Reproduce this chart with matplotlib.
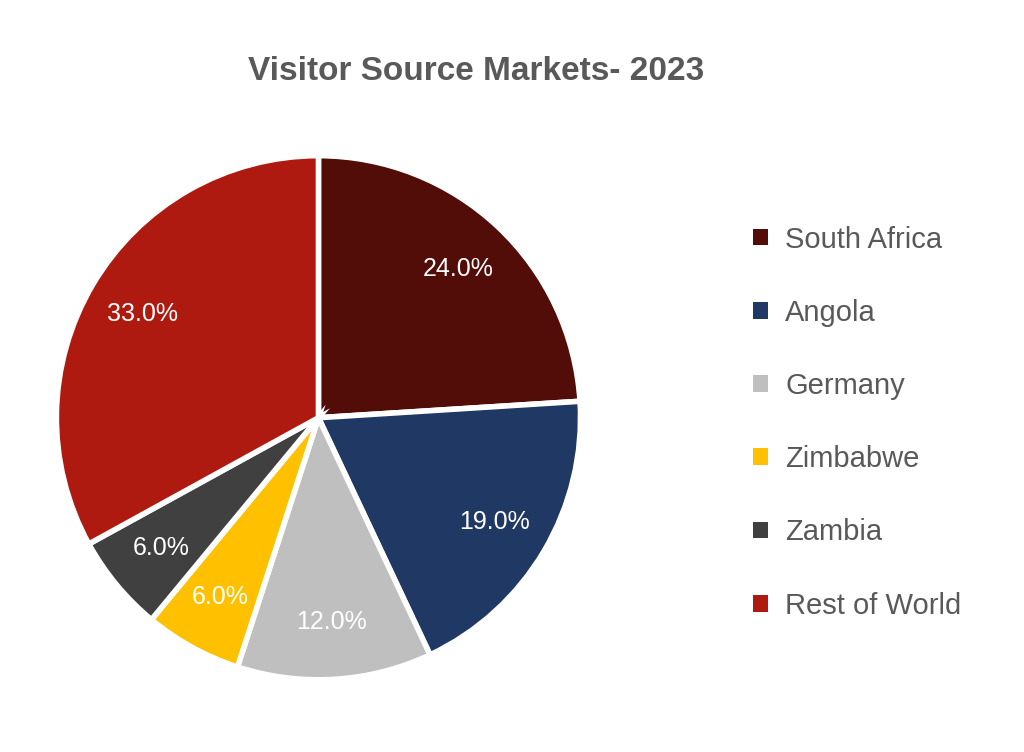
import matplotlib
matplotlib.use("Agg")
import matplotlib.pyplot as plt
from matplotlib.patches import Patch

categories = ["South Africa", "Angola", "Germany", "Zimbabwe", "Zambia", "Rest of World"]
values = [24.0, 19.0, 12.0, 6.0, 6.0, 33.0]
colors = ["#520D08", "#1F3864", "#BFBFBF", "#FFC000", "#404040", "#AE1A10"]

plt.rcParams['font.family'] = ['Liberation Sans', 'DejaVu Sans']
fig = plt.figure(figsize=(10.24, 7.52), dpi=100)
ax = fig.add_axes([0.055, 0.096, 0.512, 0.697])
wedges, texts, autotexts = ax.pie(values, colors=colors, startangle=90, counterclock=False,
                                  autopct='%1.1f%%', pctdistance=0.78,
                                  wedgeprops=dict(edgecolor='white', linewidth=4),
                                  textprops=dict(color='white', fontsize=18))
ax.set_xlim(-1.0, 1.0)
ax.set_ylim(-1.0, 1.0)
ax.set_aspect('equal')
ax.axis('off')
fig.text(0.465, 0.905, "Visitor Source Markets- 2023", ha='center', va='center',
         fontsize=24, fontweight='bold', color='#595959')
handles = [Patch(facecolor=c, label=l) for c, l in zip(colors, categories)]
fig.legend(handles=handles, loc='upper left', bbox_to_anchor=(0.71, 0.735), frameon=False,
           fontsize=21, labelcolor='#595959', labelspacing=1.55, handlelength=0.5,
           handleheight=0.5, handletextpad=0.6)
fig.savefig("out.png", dpi=100)
